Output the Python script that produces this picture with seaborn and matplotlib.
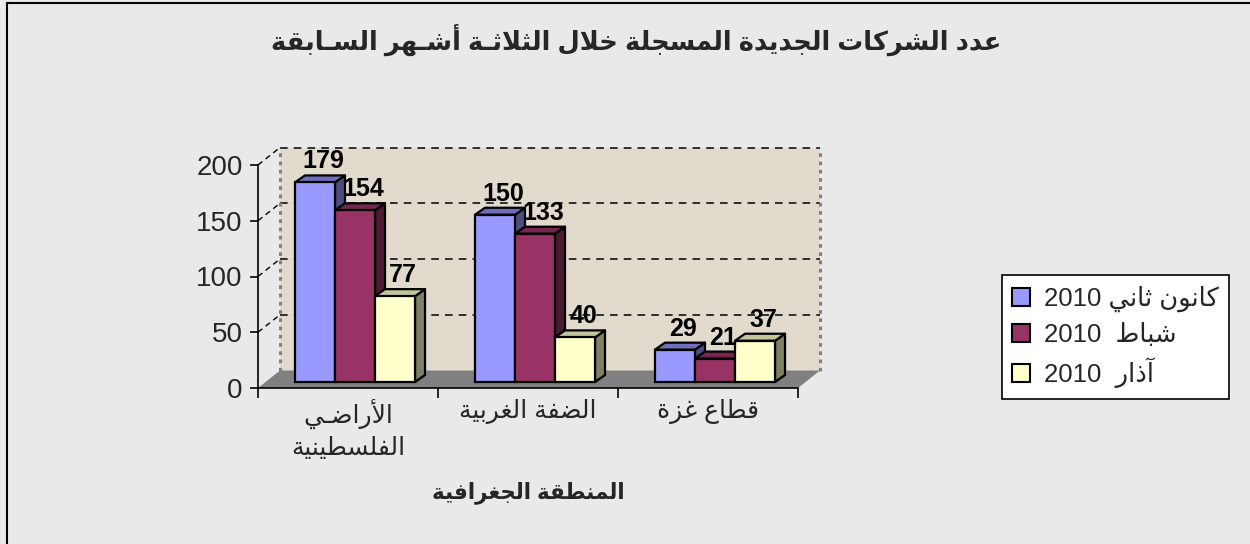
import matplotlib
matplotlib.use("Agg")
import matplotlib.pyplot as plt
import matplotlib.transforms as mtransforms
from matplotlib.patches import Polygon, Rectangle, Patch
import seaborn as sns
import pandas as pd

# ---------------- data ----------------
regions = ["الأراضـي\nالفلسطينية", "الضفة الغربية", "قطاع غزة"]
months = ["كانون ثاني 2010", "شباط  2010", "آذار  2010"]
jan_2010 = [179, 150, 29]
feb_2010 = [154, 133, 21]
mar_2010 = [77, 40, 37]
y_ticks = [0, 50, 100, 150, 200]
title_text = "عدد الشركات الجديدة المسجلة خلال الثلاثـة أشـهر السـابقة"
xlabel_text = "المنطقة الجغرافية"

front_colors = ["#9999FF", "#993366", "#FFFFCC"]
side_colors = ["#4D4D80", "#4D1A33", "#808066"]
top_colors = ["#6E6EBA", "#74264F", "#C4C49C"]

# ---------------- minimal Arabic shaping ----------------
_DUAL = {0x0626: 0xFE89, 0x0628: 0xFE8F, 0x062A: 0xFE95, 0x062B: 0xFE99, 0x062C: 0xFE9D,
         0x062D: 0xFEA1, 0x062E: 0xFEA5, 0x0633: 0xFEB1, 0x0634: 0xFEB5, 0x0635: 0xFEB9,
         0x0636: 0xFEBD, 0x0637: 0xFEC1, 0x0638: 0xFEC5, 0x0639: 0xFEC9, 0x063A: 0xFECD,
         0x0641: 0xFED1, 0x0642: 0xFED5, 0x0643: 0xFED9, 0x0644: 0xFEDD, 0x0645: 0xFEE1,
         0x0646: 0xFEE5, 0x0647: 0xFEE9, 0x064A: 0xFEF1}
_RIGHT = {0x0622: 0xFE81, 0x0623: 0xFE83, 0x0624: 0xFE85, 0x0625: 0xFE87, 0x0627: 0xFE8D,
          0x0629: 0xFE93, 0x062F: 0xFEA9, 0x0630: 0xFEAB, 0x0631: 0xFEAD, 0x0632: 0xFEAF,
          0x0648: 0xFEED, 0x0649: 0xFEEF}
_LAMALEF = {0x0622: 0xFEF5, 0x0623: 0xFEF7, 0x0625: 0xFEF9, 0x0627: 0xFEFB}


def _shape(word):
    units = []
    i = 0
    while i < len(word):
        c = ord(word[i])
        if c == 0x0644 and i + 1 < len(word) and ord(word[i + 1]) in _LAMALEF:
            b = _LAMALEF[ord(word[i + 1])]
            units.append(("R", (chr(b), chr(b + 1), None, None)))
            i += 2
            continue
        if c in _DUAL:
            b = _DUAL[c]
            units.append(("D", (chr(b), chr(b + 1), chr(b + 2), chr(b + 3))))
        elif c in _RIGHT:
            b = _RIGHT[c]
            units.append(("R", (chr(b), chr(b + 1), None, None)))
        elif c == 0x0640:
            units.append(("C", (word[i],) * 4))
        elif c == 0x0621:
            units.append(("U", ("\uFE80",) * 4))
        else:
            units.append(("U", (word[i],) * 4))
        i += 1
    out = []
    for k, (t, f) in enumerate(units):
        pj = k > 0 and units[k - 1][0] in "DC" and t in "DRC"
        nj = k + 1 < len(units) and t in "DC" and units[k + 1][0] in "DRC"
        if pj and nj:
            g = f[3]
        elif pj:
            g = f[1]
        elif nj:
            g = f[2]
        else:
            g = f[0]
        out.append(g)
    return "".join(out)


def ar(s):
    res = []
    for line in s.split("\n"):
        toks = line.split(" ")
        vis = []
        for t in toks:
            if any("\u0600" <= ch <= "\u06FF" for ch in t):
                vis.append(_shape(t)[::-1])
            else:
                vis.append(t)
        res.append(" ".join(vis[::-1]))
    return "\n".join(res)


# ---------------- figure ----------------
sns.set_theme(style="white")
FONT = ["Liberation Sans", "DejaVu Sans"]
plt.rcParams["font.family"] = FONT

W, H = 1250, 544
BG = "#E9E9E9"
fig = plt.figure(figsize=(W / 100, H / 100), dpi=100, facecolor=BG)

# figure border (left + top visible)
fig.patches.append(Rectangle((7 / W, -0.05), 1.2, 1.05 - 3 / H, transform=fig.transFigure,
                             fill=False, edgecolor="black", linewidth=1.5, zorder=0))

AX_L, AX_R, AX_B, AX_T = 258, 798, 388, 165
ax = fig.add_axes([AX_L / W, 1 - AX_B / H, (AX_R - AX_L) / W, (AX_B - AX_T) / H])
ax.set_facecolor("none")
ax.set_xlim(-0.5, 2.5)
ax.set_ylim(0, 200)

px_x = (AX_R - AX_L) / 3.0
px_y = (AX_B - AX_T) / 200.0
DX = lambda p: p / px_x
DY = lambda p: p / px_y

df = pd.DataFrame({
    "region": regions * 3,
    "month": [months[0]] * 3 + [months[1]] * 3 + [months[2]] * 3,
    "count": jan_2010 + feb_2010 + mar_2010,
})

sns.barplot(data=df, x="region", y="count", hue="month", order=regions, hue_order=months,
            palette=front_colors, saturation=1, width=0.667, edgecolor="black",
            linewidth=1.6, ax=ax, legend=False, errorbar=None)
ax.set_xlim(-0.5, 2.5)
ax.set_ylim(0, 200)

# ---- 3D decorations: wall, floor, grid ----
wdx, wdy = DX(22), DY(17.5)
ax.add_patch(Polygon([(-0.5 + wdx, wdy), (2.5 + wdx, wdy), (2.5 + wdx, 200 + wdy), (-0.5 + wdx, 200 + wdy)],
                     closed=True, facecolor="#E2DACD", edgecolor="none", zorder=0.5, clip_on=False))
ax.add_patch(Polygon([(-0.5, 0), (2.5, 0), (2.5 + wdx, wdy), (-0.5 + wdx, wdy)],
                     closed=True, facecolor="#808080", edgecolor="none", zorder=0.8, clip_on=False))
for v in y_ticks[1:]:
    ax.plot([-0.5 + wdx, 2.5 + wdx], [v + wdy, v + wdy], color="black", lw=1.1,
            ls=(0, (5, 4)), zorder=0.9, clip_on=False)
    ax.plot([-0.5, -0.5 + wdx], [v, v + wdy], color="black", lw=1.0,
            ls=(0, (4, 3)), zorder=0.9, clip_on=False)
for xx in (-0.5 + wdx, 2.5 + wdx):
    ax.plot([xx, xx], [wdy, 200 + wdy], color="#808080", lw=2.2, ls=(0, (1.2, 1.5)),
            zorder=0.9, clip_on=False)

# ---- 3D bars (side + top faces) ----
off = mtransforms.ScaledTranslation(7 / 100, 6 / 100, fig.dpi_scale_trans)
bdx, bdy = DX(10), DY(7)
bars = [p for p in ax.patches if isinstance(p, Rectangle) and p.get_height() > 0 and p.get_width() < 1]
bars = sorted(bars, key=lambda p: p.get_x())
for rank, p in enumerate(bars):
    x0, w, h = p.get_x(), p.get_width(), p.get_height()
    fc = p.get_facecolor()
    idx = min(range(3), key=lambda i: sum(abs(a - b) for a, b in zip(matplotlib.colors.to_rgb(front_colors[i]), fc[:3])))
    z = 3 + rank * 0.1
    tr = ax.transData + off
    p.set_transform(tr)
    p.set_zorder(z + 0.05)
    p.set_clip_on(False)
    side = Polygon([(x0 + w, 0), (x0 + w + bdx, bdy), (x0 + w + bdx, h + bdy), (x0 + w, h)], closed=True,
                   facecolor=side_colors[idx], edgecolor="black", lw=1.6, joinstyle="round",
                   transform=tr, zorder=z, clip_on=False)
    top = Polygon([(x0, h), (x0 + bdx, h + bdy), (x0 + w + bdx, h + bdy), (x0 + w, h)], closed=True,
                  facecolor=top_colors[idx], edgecolor="black", lw=1.6, joinstyle="round",
                  transform=tr, zorder=z, clip_on=False)
    ax.add_patch(side)
    ax.add_patch(top)
    ax.text(x0 + w / 2 + DX(8), h + DY(21), f"{int(round(h))}", transform=tr, ha="center", va="center",
            fontsize=18, fontweight="bold", color="black", zorder=10, family=FONT)

# ---- axes styling ----
for s in ("top", "right"):
    ax.spines[s].set_visible(False)
ax.spines["left"].set_color("black")
ax.spines["bottom"].set_color("black")
ax.spines["left"].set_linewidth(1.2)
ax.spines["bottom"].set_linewidth(1.2)
ax.spines["left"].set_zorder(20)
ax.spines["bottom"].set_zorder(20)

ax.set_yticks(y_ticks)
ax.set_yticklabels([str(v) for v in y_ticks], fontsize=20, family=FONT)
ax.tick_params(axis="y", direction="out", length=6, width=1.2, color="black", pad=5, left=True)

ax.set_xticks([-0.5, 0.5, 1.5, 2.5])
ax.set_xticklabels([])
ax.tick_params(axis="x", which="major", direction="out", length=7, width=1.2, color="black", bottom=True)
ax.set_xticks([0, 1, 2], minor=True)
ax.set_xticklabels([ar(r) for r in regions], minor=True, fontsize=18, family=FONT, linespacing=1.35)
ax.tick_params(axis="x", which="minor", length=0, pad=8)
ax.set_xlabel("")
ax.set_ylabel("")

# ---- title / axis title ----
fig.text(636 / W, 1 - 40 / H, ar(title_text), ha="center", va="center", fontsize=18.5,
         fontweight="bold", family=FONT)
fig.text(528 / W, 1 - 493 / H, ar(xlabel_text), ha="center", va="center", fontsize=15.5,
         fontweight="bold", family=FONT)

# ---- legend ----
handles = [Patch(facecolor=c, edgecolor="black", linewidth=1.5) for c in front_colors]
leg = ax.legend(handles, [ar(m) for m in months], loc="center left",
                bbox_to_anchor=(1002 / W, 1 - 337 / H), bbox_transform=fig.transFigure,
                frameon=True, fancybox=False, framealpha=1, edgecolor="black",
                facecolor="white", prop={"family": FONT, "size": 18.5},
                handlelength=0.7, handleheight=0.7, handletextpad=0.55,
                labelspacing=0.42, borderpad=0.4, borderaxespad=0)
leg.get_frame().set_linewidth(1.2)

fig.savefig("out.png", dpi=100, facecolor=BG)
